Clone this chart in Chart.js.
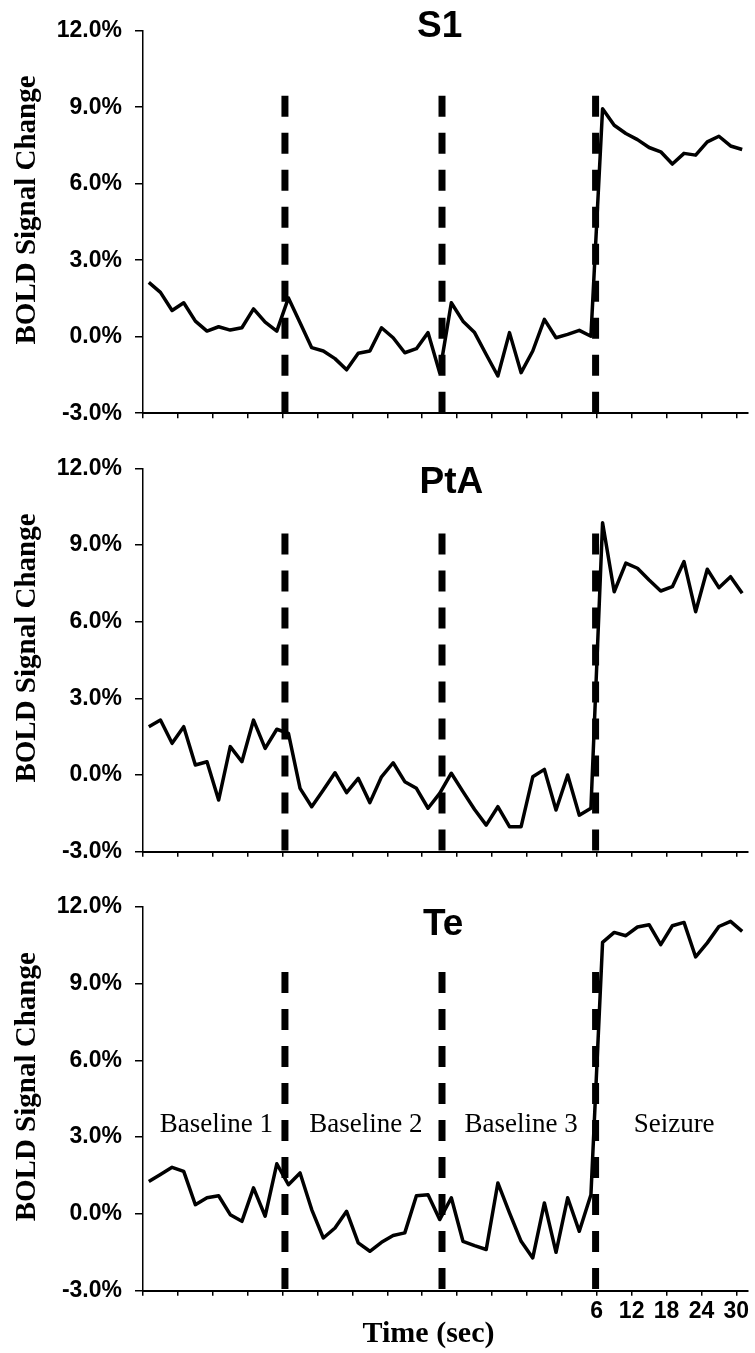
<!DOCTYPE html>
<html>
<head>
<meta charset="utf-8">
<script src="https://cdn.jsdelivr.net/npm/chart.js@4.4.1/dist/chart.umd.min.js"></script>
<style>
  body { margin: 0; background: #fff; }
  #wrap { position: relative; width: 755px; height: 1353px; background: #fff; }
  canvas { position: absolute; left: 0; }
</style>
</head>
<body>
<div id="wrap">
  <canvas id="chartS1" width="755" height="440" style="top:0px"></canvas>
  <canvas id="chartPtA" width="755" height="440" style="top:440px"></canvas>
  <canvas id="chartTe" width="755" height="473" style="top:880px"></canvas>
</div>
<script>
// sample number (one sample every 2 sec)
var samples = [0, 1, 2, 3, 4, 5, 6, 7, 8, 9, 10, 11, 12, 13, 14, 15, 16, 17, 18, 19,
  20, 21, 22, 23, 24, 25, 26, 27, 28, 29, 30, 31, 32, 33, 34, 35, 36, 37, 38, 39,
  40, 41, 42, 43, 44, 45, 46, 47, 48, 49, 50, 51];

// BOLD signal change (%) per region
var s1Values = [2.13, 1.74, 1.03, 1.33, 0.61, 0.22, 0.39, 0.26, 0.35, 1.09, 0.57, 0.22, 1.52,
  0.55, -0.43, -0.56, -0.86, -1.30, -0.65, -0.56, 0.35, -0.04, -0.63, -0.47, 0.16, -1.41,
  1.33, 0.61, 0.16, -0.70, -1.54, 0.16, -1.41, -0.56, 0.68, -0.04, 0.09, 0.25, 0.02,
  8.94, 8.29, 7.97, 7.73, 7.42, 7.25, 6.77, 7.19, 7.12, 7.64, 7.86, 7.48, 7.34];

var ptaValues = [1.89, 2.15, 1.24, 1.89, 0.39, 0.52, -0.98, 1.11, 0.52, 2.15, 1.04, 1.79, 1.63,
  -0.52, -1.24, -0.59, 0.09, -0.69, -0.13, -1.08, -0.07, 0.48, -0.26, -0.52, -1.30, -0.72,
  0.07, -0.65, -1.35, -1.96, -1.24, -2.02, -2.02, -0.07, 0.22, -1.37, 0.00, -1.57, -1.30,
  9.87, 7.17, 8.29, 8.09, 7.63, 7.20, 7.37, 8.35, 6.39, 8.05, 7.33, 7.76, 7.11];

var teValues = [1.27, 1.54, 1.82, 1.66, 0.36, 0.63, 0.71, -0.03, -0.29, 1.02, -0.09, 1.96, 1.14,
  1.60, 0.17, -0.94, -0.55, 0.10, -1.13, -1.46, -1.11, -0.84, -0.74, 0.71, 0.75, -0.22,
  0.63, -1.07, -1.24, -1.39, 1.21, 0.04, -1.07, -1.72, 0.43, -1.50, 0.63, -0.68, 0.75,
  10.61, 11.00, 10.87, 11.21, 11.30, 10.52, 11.26, 11.39, 10.04, 10.59, 11.23, 11.43, 11.04];

// phase boundaries (dashed lines), in sample units
var phaseBounds = [11.7, 25.2, 38.4];
var dashTop = 9.45;
var phaseNames = ['Baseline 1', 'Baseline 2', 'Baseline 3', 'Seizure'];

// x tick marks every 3 samples (6 sec), labels only under the seizure part
var xTickValues = [-0.5, 2.5, 5.5, 8.5, 11.5, 14.5, 17.5, 20.5, 23.5, 26.5, 29.5, 32.5,
  35.5, 38.5, 41.5, 44.5, 47.5, 50.5];
var xTickLabels = ['', '', '', '', '', '', '', '', '', '', '', '', '', '6', '12', '18', '24', '30'];

var yTicks = [-3, 0, 3, 6, 9, 12];

var SANS = '"Liberation Sans", Arial, Helvetica, sans-serif';
var SERIF = '"Liberation Serif", "Times New Roman", Times, serif';

// draws panel name, y label, phase names and the time label
var annotate = {
  id: 'annotate',
  afterDraw: function(chart) {
    var o = chart.options.plugins.annotate;
    var ctx = chart.ctx;
    var area = chart.chartArea;
    var xs = chart.scales.x, ys = chart.scales.y;
    ctx.save();
    ctx.fillStyle = '#000';

    ctx.font = 'bold 37px ' + SANS;
    ctx.textAlign = 'center';
    ctx.textBaseline = 'alphabetic';
    ctx.fillText(o.title, xs.getPixelForValue(o.titleX), area.top + o.titleDy);

    ctx.save();
    ctx.font = 'bold 29px ' + SERIF;
    ctx.translate(35, (area.top + area.bottom) / 2 - 12);
    ctx.rotate(-Math.PI / 2);
    ctx.fillText('BOLD Signal Change', 0, 0);
    ctx.restore();

    if (o.phases) {
      var edges = [xs.min].concat(phaseBounds).concat([xs.max]);
      ctx.font = '27px ' + SERIF;
      for (var i = 0; i < phaseNames.length; i++) {
        var mid = (edges[i] + edges[i + 1]) / 2;
        ctx.fillText(phaseNames[i], xs.getPixelForValue(mid + 0.2), ys.getPixelForValue(3.2));
      }
      ctx.font = 'bold 30px ' + SERIF;
      ctx.fillText('Time (sec)', (area.left + area.right) / 2 - 17, area.bottom + 51);
    }
    ctx.restore();
  }
};

function makePanel(id, name, values, titleX, titleDy, padTop, xHeight, bottomPanel) {
  var datasets = [{
    data: values,
    borderColor: '#000',
    borderWidth: 3.5,
    borderJoinStyle: 'round',
    pointRadius: 0,
    tension: 0,
    fill: false,
    order: 0
  }];
  phaseBounds.forEach(function(b) {
    datasets.push({
      data: [{x: b, y: dashTop}, {x: b, y: -3}],
      borderColor: '#000',
      borderWidth: 7,
      borderDash: [21, 16],
      borderCapStyle: 'butt',
      pointRadius: 0,
      fill: false,
      order: 1
    });
  });

  return new Chart(document.getElementById(id), {
    type: 'line',
    data: { labels: samples, datasets: datasets },
    plugins: [annotate],
    options: {
      responsive: false,
      animation: false,
      devicePixelRatio: 1,
      layout: { padding: { top: padTop, right: 7, left: 0, bottom: 0 } },
      plugins: {
        legend: { display: false },
        tooltip: { enabled: false },
        annotate: { title: name, titleX: titleX, titleDy: titleDy, phases: bottomPanel }
      },
      scales: {
        x: {
          type: 'linear',
          min: -0.5,
          max: 51.5,
          afterBuildTicks: function(scale) {
            scale.ticks = xTickValues.map(function(v) { return { value: v }; });
          },
          afterFit: function(scale) { scale.height = xHeight; },
          border: { display: true, color: '#000', width: 2 },
          grid: { drawOnChartArea: false, drawTicks: true, tickLength: 5, color: '#000', lineWidth: 1.5 },
          ticks: {
            display: bottomPanel,
            autoSkip: false,
            maxRotation: 0,
            padding: 2,
            color: '#000',
            font: { family: SANS, size: 23, weight: 'bold' },
            callback: function(v, i) { return xTickLabels[i]; }
          }
        },
        y: {
          min: -3,
          max: 12,
          afterBuildTicks: function(scale) {
            scale.ticks = yTicks.map(function(v) { return { value: v }; });
          },
          afterFit: function(scale) { scale.width = 143; },
          border: { display: true, color: '#000', width: 1.5 },
          grid: { drawOnChartArea: false, drawTicks: true, tickLength: 8, color: '#000', lineWidth: 1.5 },
          ticks: {
            padding: 13,
            color: '#000',
            font: { family: SANS, size: 23, weight: 'bold' },
            callback: function(v) { return v.toFixed(1) + '%'; }
          }
        }
      }
    }
  });
}

makePanel('chartS1', 'S1', s1Values, 25.0, 6.3, 30.7, 25.7, false);
makePanel('chartPtA', 'PtA', ptaValues, 26.0, 24.7, 28.3, 28.3, false);
makePanel('chartTe', 'Te', teValues, 25.3, 28.3, 26.7, 62.3, true);
</script>
</body>
</html>
